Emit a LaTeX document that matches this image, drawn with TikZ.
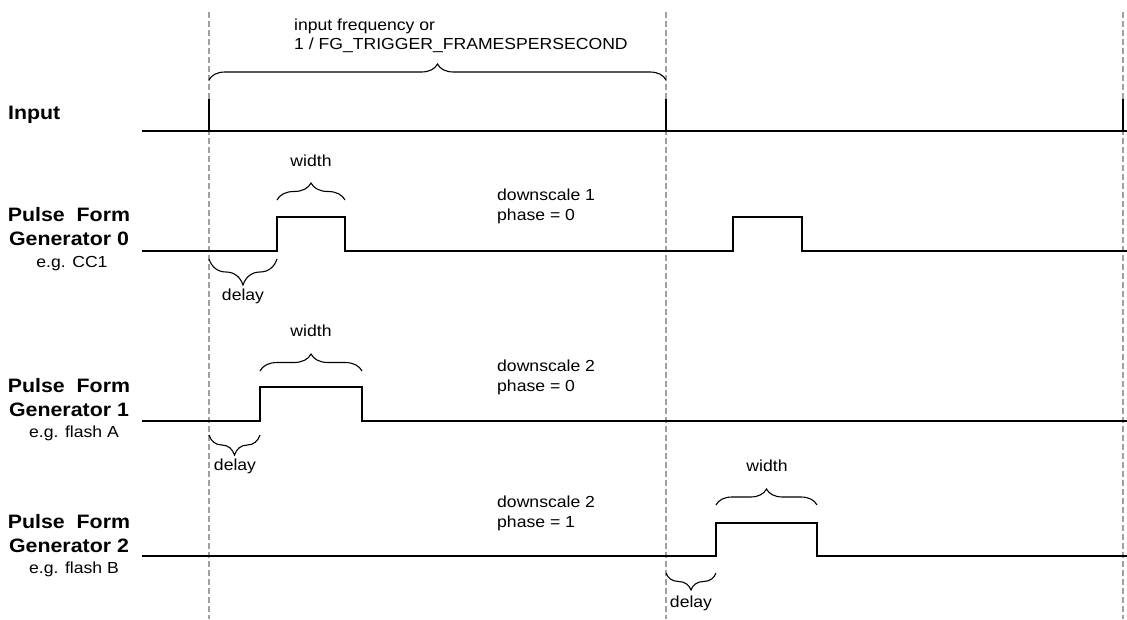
\documentclass[tikz,border=0pt]{standalone}
\usepackage{fontspec}
\setmainfont[FakeStretch=1.1]{Liberation Sans}
\usetikzlibrary{decorations.pathreplacing}
\definecolor{gridgray}{HTML}{A0A0A0}

\begin{document}
\begin{tikzpicture}[x=1pt,y=-1pt,font=\fontsize{16}{20}\selectfont,
  sig/.style={draw=black,line width=2.5pt},
  period/.style={draw=gridgray,line width=1.4pt,dash pattern=on 6pt off 3pt},
  brc/.style={decorate,decoration={brace,amplitude=#1},draw=black,line width=1.1pt},
  chan/.style={font=\fontsize{19.4}{24}\selectfont\bfseries,align=center,inner sep=0pt},
  note/.style={align=left,inner sep=0pt,anchor=north west}]
\useasboundingbox (0,0) rectangle (1127,619);
\def\tA{209}\def\tB{666}\def\tC{1123}

% period markers
\foreach \x in {\tA,\tB,\tC} \draw[period] (\x,12) -- (\x,619);

% input trigger
\node[chan,anchor=base west] (lin) at (8,119) {Input};
\draw[sig] (142,131) -- (1127,131);
\foreach \x in {\tA,\tB,\tC} \draw[sig] (\x,99) -- (\x,131);
\draw[brc=16pt] (\tA,80) -- (\tB,80);
\node[note,font=\fontsize{16}{18.5}\selectfont] (freq) at (294,19)
  {input frequency or\\1 / FG\_TRIGGER\_FRAMESPERSECOND};

% pulse form generator 0
\node[chan,anchor=north] (lpg0) at (69,207) {Pulse\ \ Form\\Generator 0};
\node[inner sep=0pt,anchor=base] (ex0) at (72,267) {e.g. CC1};
\draw[sig] (142,251) -- (277,251) -- (277,217) -- (345,217) -- (345,251)
  -- (733,251) -- (733,217) -- (802,217) -- (802,251) -- (1127,251);
\draw[brc=17pt] (277,200) -- (345,200);
\node[inner sep=0pt,anchor=base] (w0) at (311,166) {width};
\draw[brc=26pt] (277,259) -- (\tA,259);
\node[inner sep=0pt,anchor=base] (d0) at (243,300) {delay};
\node[note] (ds0) at (497,189) {downscale 1\\phase = 0};

% pulse form generator 1
\node[chan,anchor=north] (lpg1) at (69,378) {Pulse\ \ Form\\Generator 1};
\node[inner sep=0pt,anchor=base] (ex1) at (74,437) {e.g. flash A};
\draw[sig] (142,421) -- (260,421) -- (260,387) -- (362,387) -- (362,421) -- (1127,421);
\draw[brc=17pt] (260,371) -- (362,371);
\node[inner sep=0pt,anchor=base] (w1) at (311,336) {width};
\draw[brc=20pt] (260,435) -- (\tA,435);
\node[inner sep=0pt,anchor=base] (d1) at (235,470) {delay};
\node[note] (ds1) at (497,360) {downscale 2\\phase = 0};

% pulse form generator 2
\node[chan,anchor=north] (lpg2) at (69,514) {Pulse\ \ Form\\Generator 2};
\node[inner sep=0pt,anchor=base] (ex2) at (74,573) {e.g. flash B};
\draw[sig] (142,556) -- (716,556) -- (716,523) -- (817,523) -- (817,556) -- (1127,556);
\draw[brc=16pt] (716,505) -- (817,505);
\node[inner sep=0pt,anchor=base] (w2) at (767,471) {width};
\draw[brc=17pt] (716,573) -- (\tB,573);
\node[inner sep=0pt,anchor=base] (d2) at (691,607) {delay};
\node[note] (ds2) at (497,496) {downscale 2\\phase = 1};
\end{tikzpicture}
\end{document}
